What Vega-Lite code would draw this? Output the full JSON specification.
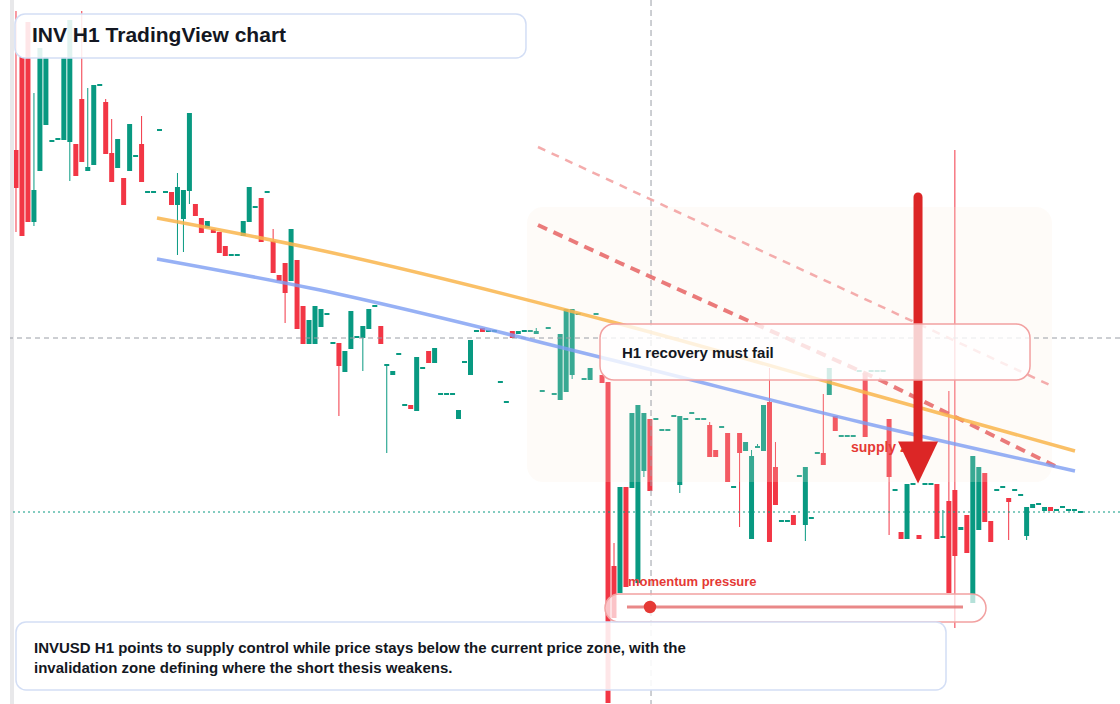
{
"$schema": "https://vega.github.io/schema/vega-lite/v6.json",
"width": 1120, "height": 704,
"autosize": {"type": "fit", "contains": "padding"},
"padding": {"left": 10, "top": 0, "right": 0, "bottom": 0},
"background": "#ffffff",
"config": {"view": {"stroke": null}, "text": {"font": "Liberation Sans"}},
"datasets": {
"candles": [
{"i":0,"o":5.54,"h":6.93,"l":4.72,"c":5.16},
{"i":1,"o":6.47,"h":6.47,"l":4.68,"c":4.68},
{"i":2,"o":6.82,"h":6.82,"l":4.82,"c":4.82},
{"i":3,"o":4.82,"h":6.11,"l":4.78,"c":5.14},
{"i":4,"o":5.33,"h":6.56,"l":5.33,"c":6.56},
{"i":5,"o":5.79,"h":6.47,"l":5.79,"c":6.47},
{"i":6,"o":5.62,"h":5.64,"l":5.62,"c":5.64},
{"i":7,"o":5.64,"h":5.66,"l":5.64,"c":5.66},
{"i":8,"o":5.64,"h":6.47,"l":5.64,"c":6.47},
{"i":9,"o":5.62,"h":6.84,"l":5.23,"c":6.84},
{"i":10,"o":5.60,"h":5.60,"l":5.28,"c":5.28},
{"i":11,"o":6.05,"h":6.93,"l":5.42,"c":5.42},
{"i":12,"o":5.33,"h":6.16,"l":5.33,"c":5.37},
{"i":13,"o":5.39,"h":6.19,"l":5.39,"c":6.19},
{"i":14,"o":6.18,"h":6.20,"l":6.18,"c":6.20},
{"i":15,"o":6.02,"h":6.05,"l":5.50,"c":5.50},
{"i":16,"o":5.51,"h":5.85,"l":5.22,"c":5.22},
{"i":17,"o":5.36,"h":5.65,"l":5.36,"c":5.65},
{"i":18,"o":5.26,"h":5.26,"l":4.99,"c":4.99},
{"i":19,"o":5.33,"h":5.80,"l":5.33,"c":5.80},
{"i":20,"o":5.47,"h":5.49,"l":5.47,"c":5.49},
{"i":21,"o":5.60,"h":5.88,"l":5.22,"c":5.22},
{"i":22,"o":5.11,"h":5.13,"l":5.11,"c":5.13},
{"i":23,"o":5.11,"h":5.13,"l":5.11,"c":5.13},
{"i":24,"o":5.73,"h":5.75,"l":5.73,"c":5.75},
{"i":25,"o":5.11,"h":5.13,"l":5.11,"c":5.13},
{"i":26,"o":5.12,"h":5.12,"l":4.99,"c":4.99},
{"i":27,"o":4.99,"h":5.31,"l":4.49,"c":5.17},
{"i":28,"o":4.85,"h":5.14,"l":4.52,"c":5.14},
{"i":29,"o":5.13,"h":5.91,"l":5.00,"c":5.91},
{"i":30,"o":5.00,"h":5.00,"l":4.88,"c":4.88},
{"i":31,"o":4.86,"h":4.86,"l":4.71,"c":4.71},
{"i":32,"o":4.76,"h":4.83,"l":4.76,"c":4.83},
{"i":33,"o":4.75,"h":4.75,"l":4.71,"c":4.71},
{"i":34,"o":4.72,"h":4.72,"l":4.51,"c":4.51},
{"i":35,"o":4.58,"h":4.58,"l":4.48,"c":4.48},
{"i":36,"o":4.48,"h":4.50,"l":4.48,"c":4.50},
{"i":37,"o":4.48,"h":4.50,"l":4.48,"c":4.50},
{"i":38,"o":4.68,"h":4.83,"l":4.68,"c":4.83},
{"i":39,"o":4.82,"h":5.17,"l":4.82,"c":5.17},
{"i":40,"o":4.96,"h":4.98,"l":4.96,"c":4.98},
{"i":41,"o":5.06,"h":5.06,"l":4.62,"c":4.62},
{"i":42,"o":5.11,"h":5.13,"l":5.11,"c":5.13},
{"i":43,"o":4.63,"h":4.75,"l":4.31,"c":4.31},
{"i":44,"o":4.29,"h":4.29,"l":4.23,"c":4.23},
{"i":45,"o":4.41,"h":4.41,"l":3.81,"c":4.11},
{"i":46,"o":4.23,"h":4.75,"l":4.23,"c":4.75},
{"i":47,"o":4.44,"h":4.44,"l":3.75,"c":3.75},
{"i":48,"o":3.98,"h":3.98,"l":3.60,"c":3.60},
{"i":49,"o":3.60,"h":3.84,"l":3.60,"c":3.84},
{"i":50,"o":3.60,"h":3.98,"l":3.60,"c":3.98},
{"i":51,"o":3.77,"h":3.95,"l":3.77,"c":3.95},
{"i":52,"o":3.89,"h":3.91,"l":3.89,"c":3.91},
{"i":53,"o":3.60,"h":3.62,"l":3.60,"c":3.62},
{"i":54,"o":3.61,"h":3.61,"l":2.88,"c":3.38},
{"i":55,"o":3.32,"h":3.53,"l":3.32,"c":3.53},
{"i":56,"o":3.55,"h":3.93,"l":3.55,"c":3.93},
{"i":57,"o":3.66,"h":3.68,"l":3.66,"c":3.68},
{"i":58,"o":3.66,"h":3.78,"l":3.33,"c":3.78},
{"i":59,"o":3.75,"h":3.95,"l":3.75,"c":3.95},
{"i":60,"o":3.97,"h":3.99,"l":3.97,"c":3.99},
{"i":61,"o":3.78,"h":3.78,"l":3.60,"c":3.60},
{"i":62,"o":3.38,"h":3.40,"l":2.51,"c":3.40},
{"i":63,"o":3.29,"h":3.33,"l":3.29,"c":3.33},
{"i":64,"o":3.49,"h":3.51,"l":3.49,"c":3.51},
{"i":65,"o":2.98,"h":3.00,"l":2.98,"c":3.00},
{"i":66,"o":2.99,"h":2.99,"l":2.95,"c":2.95},
{"i":67,"o":2.93,"h":3.47,"l":2.93,"c":3.47},
{"i":68,"o":3.35,"h":3.37,"l":3.35,"c":3.37},
{"i":69,"o":3.53,"h":3.53,"l":3.41,"c":3.41},
{"i":70,"o":3.41,"h":3.56,"l":3.41,"c":3.56},
{"i":71,"o":3.09,"h":3.11,"l":3.09,"c":3.11},
{"i":72,"o":3.09,"h":3.11,"l":3.09,"c":3.11},
{"i":73,"o":3.09,"h":3.11,"l":3.09,"c":3.11},
{"i":74,"o":2.85,"h":2.94,"l":2.85,"c":2.94},
{"i":75,"o":3.41,"h":3.43,"l":3.41,"c":3.43},
{"i":76,"o":3.29,"h":3.64,"l":3.29,"c":3.64},
{"i":77,"o":3.72,"h":3.74,"l":3.72,"c":3.74},
{"i":78,"o":3.76,"h":3.76,"l":3.72,"c":3.72},
{"i":79,"o":3.72,"h":3.74,"l":3.72,"c":3.74},
{"i":80,"o":3.72,"h":3.74,"l":3.72,"c":3.74},
{"i":81,"o":3.21,"h":3.23,"l":3.21,"c":3.23},
{"i":82,"o":3.01,"h":3.03,"l":3.01,"c":3.03},
{"i":83,"o":3.73,"h":3.73,"l":3.66,"c":3.66},
{"i":84,"o":3.70,"h":3.73,"l":3.70,"c":3.73},
{"i":85,"o":3.72,"h":3.74,"l":3.72,"c":3.74},
{"i":86,"o":3.72,"h":3.74,"l":3.72,"c":3.74},
{"i":87,"o":3.70,"h":3.76,"l":3.70,"c":3.73},
{"i":88,"o":3.12,"h":3.14,"l":3.12,"c":3.14},
{"i":89,"o":3.75,"h":3.77,"l":3.75,"c":3.77},
{"i":90,"o":3.09,"h":3.11,"l":3.09,"c":3.11},
{"i":91,"o":3.04,"h":3.70,"l":3.04,"c":3.70},
{"i":92,"o":3.12,"h":3.95,"l":3.12,"c":3.95},
{"i":93,"o":3.29,"h":3.95,"l":3.25,"c":3.95},
{"i":94,"o":3.89,"h":3.91,"l":3.89,"c":3.91},
{"i":95,"o":3.24,"h":3.26,"l":3.24,"c":3.26},
{"i":96,"o":3.24,"h":3.36,"l":3.24,"c":3.36},
{"i":97,"o":3.89,"h":3.91,"l":3.89,"c":3.91},
{"i":98,"o":3.29,"h":3.29,"l":3.21,"c":3.21},
{"i":99,"o":3.22,"h":3.22,"l":0.01,"c":0.01},
{"i":100,"o":1.38,"h":1.61,"l":0.86,"c":0.86},
{"i":101,"o":1.11,"h":2.17,"l":1.11,"c":2.17},
{"i":102,"o":2.17,"h":2.17,"l":1.17,"c":1.17},
{"i":103,"o":2.16,"h":2.91,"l":2.16,"c":2.91},
{"i":104,"o":1.21,"h":2.99,"l":1.21,"c":2.99},
{"i":105,"o":2.33,"h":2.91,"l":2.27,"c":2.91},
{"i":106,"o":2.85,"h":2.85,"l":2.13,"c":2.13},
{"i":107,"o":2.84,"h":2.86,"l":2.84,"c":2.86},
{"i":108,"o":2.73,"h":2.75,"l":2.73,"c":2.75},
{"i":109,"o":2.73,"h":2.75,"l":2.73,"c":2.75},
{"i":110,"o":2.87,"h":2.89,"l":2.87,"c":2.89},
{"i":111,"o":2.19,"h":2.88,"l":2.11,"c":2.88},
{"i":112,"o":2.84,"h":2.86,"l":2.84,"c":2.86},
{"i":113,"o":2.90,"h":2.92,"l":2.90,"c":2.92},
{"i":114,"o":2.84,"h":2.86,"l":2.84,"c":2.86},
{"i":115,"o":2.84,"h":2.86,"l":2.84,"c":2.86},
{"i":116,"o":2.79,"h":2.82,"l":2.47,"c":2.47},
{"i":117,"o":2.54,"h":2.54,"l":2.47,"c":2.47},
{"i":118,"o":2.76,"h":2.78,"l":2.76,"c":2.78},
{"i":119,"o":2.71,"h":2.71,"l":2.22,"c":2.22},
{"i":120,"o":2.16,"h":2.18,"l":2.16,"c":2.18},
{"i":121,"o":2.71,"h":2.71,"l":1.77,"c":2.51},
{"i":122,"o":2.53,"h":2.62,"l":2.53,"c":2.62},
{"i":123,"o":1.65,"h":2.54,"l":1.65,"c":2.48},
{"i":124,"o":2.56,"h":2.60,"l":2.56,"c":2.58},
{"i":125,"o":2.53,"h":2.99,"l":2.53,"c":2.99},
{"i":126,"o":3.02,"h":3.36,"l":1.62,"c":1.62},
{"i":127,"o":2.37,"h":2.62,"l":1.99,"c":1.99},
{"i":128,"o":1.82,"h":1.84,"l":1.82,"c":1.84},
{"i":129,"o":1.82,"h":1.84,"l":1.82,"c":1.84},
{"i":130,"o":1.89,"h":1.89,"l":1.79,"c":1.79},
{"i":131,"o":2.27,"h":2.29,"l":2.27,"c":2.29},
{"i":132,"o":1.79,"h":2.37,"l":1.63,"c":2.37},
{"i":133,"o":1.85,"h":1.87,"l":1.85,"c":1.87},
{"i":134,"o":2.50,"h":2.52,"l":2.50,"c":2.52},
{"i":135,"o":2.51,"h":3.10,"l":2.39,"c":2.39},
{"i":136,"o":3.09,"h":3.36,"l":3.09,"c":3.36},
{"i":137,"o":2.88,"h":2.88,"l":2.73,"c":2.73},
{"i":138,"o":2.67,"h":2.69,"l":2.67,"c":2.69},
{"i":139,"o":2.67,"h":2.69,"l":2.67,"c":2.69},
{"i":140,"o":2.67,"h":2.69,"l":2.67,"c":2.69},
{"i":141,"o":3.32,"h":3.34,"l":3.32,"c":3.34},
{"i":142,"o":3.31,"h":3.31,"l":2.67,"c":2.67},
{"i":143,"o":3.32,"h":3.34,"l":3.32,"c":3.34},
{"i":144,"o":3.32,"h":3.34,"l":3.32,"c":3.34},
{"i":145,"o":3.32,"h":3.34,"l":3.32,"c":3.34},
{"i":146,"o":2.85,"h":2.85,"l":1.69,"c":2.27},
{"i":147,"o":2.13,"h":2.15,"l":2.13,"c":2.15},
{"i":148,"o":1.72,"h":1.72,"l":1.65,"c":1.65},
{"i":149,"o":1.65,"h":2.20,"l":1.65,"c":2.20},
{"i":150,"o":2.19,"h":2.21,"l":2.19,"c":2.21},
{"i":151,"o":1.69,"h":1.69,"l":1.65,"c":1.65},
{"i":152,"o":2.19,"h":2.21,"l":2.19,"c":2.21},
{"i":153,"o":2.19,"h":2.21,"l":2.19,"c":2.21},
{"i":154,"o":2.20,"h":2.20,"l":1.65,"c":1.65},
{"i":155,"o":1.66,"h":1.94,"l":1.66,"c":1.68},
{"i":156,"o":2.03,"h":3.13,"l":1.11,"c":1.11},
{"i":157,"o":2.14,"h":5.54,"l":0.76,"c":1.48},
{"i":158,"o":1.74,"h":1.77,"l":1.74,"c":1.77},
{"i":159,"o":1.89,"h":1.89,"l":1.51,"c":1.51},
{"i":160,"o":1.01,"h":2.48,"l":1.01,"c":2.48},
{"i":161,"o":1.74,"h":2.37,"l":1.74,"c":2.37},
{"i":162,"o":2.31,"h":2.31,"l":1.82,"c":1.82},
{"i":163,"o":1.83,"h":1.83,"l":1.62,"c":1.62},
{"i":164,"o":2.13,"h":2.15,"l":2.13,"c":2.15},
{"i":165,"o":2.16,"h":2.18,"l":2.16,"c":2.18},
{"i":166,"o":2.06,"h":2.06,"l":1.64,"c":2.02},
{"i":167,"o":2.13,"h":2.15,"l":2.13,"c":2.15},
{"i":168,"o":2.08,"h":2.10,"l":2.08,"c":2.10},
{"i":169,"o":1.68,"h":1.97,"l":1.64,"c":1.97},
{"i":170,"o":1.96,"h":2.00,"l":1.96,"c":2.00},
{"i":171,"o":1.99,"h":2.01,"l":1.99,"c":2.01},
{"i":172,"o":1.93,"h":1.97,"l":1.93,"c":1.97},
{"i":173,"o":1.97,"h":1.97,"l":1.93,"c":1.93},
{"i":174,"o":1.93,"h":1.95,"l":1.93,"c":1.95},
{"i":175,"o":1.96,"h":1.98,"l":1.96,"c":1.98},
{"i":176,"o":1.93,"h":1.95,"l":1.93,"c":1.95},
{"i":177,"o":1.93,"h":1.95,"l":1.93,"c":1.95},
{"i":178,"o":1.91,"h":1.93,"l":1.91,"c":1.93}
],
"trends": [
{"line":"orange","i":23.58,"p":4.86},{"line":"orange","i":49.16,"p":4.56},{"line":"orange","i":101.0,"p":3.80},{"line":"orange","i":141.14,"p":3.13},{"line":"orange","i":177.09,"p":2.53},
{"line":"blue","i":23.58,"p":4.45},{"line":"blue","i":49.16,"p":4.16},{"line":"blue","i":101.0,"p":3.42},{"line":"blue","i":141.14,"p":2.82},{"line":"blue","i":177.09,"p":2.33},
{"line":"red","i":87.29,"p":4.79},{"line":"red","i":101.0,"p":4.41},{"line":"red","i":144.48,"p":3.24},{"line":"red","i":173.75,"p":2.38},
{"line":"pink","i":87.29,"p":5.57},{"line":"pink","i":173.24,"p":3.18}
]
},
"layer": [
{"data":{"name":"candles"},"mark":{"type":"rule","strokeWidth":1,"clip":true},
 "encoding":{
  "x":{"field":"i","type":"quantitative","scale":{"domain":[-1.0033,184.615],"nice":false,"zero":false,"padding":0},
       "axis":{"values":[1.0,19.06,31.1,50.17,61.2,72.24,85.28,98.16,114.21,131.44,144.48,163.38,180.6],"grid":true,"labels":false,"ticks":false,"domain":false,"title":null,"gridColor":"#d3d6dc","gridDash":[2,5],"gridWidth":1.2}},
  "y":{"field":"l","type":"quantitative","scale":{"domain":[0,7.04],"nice":false,"zero":false},
       "axis":{"values":[0.56,1.126,1.692,2.258,2.824,3.39,3.956,4.522,5.088,5.654,6.22,6.786],"grid":true,"labels":false,"ticks":false,"domain":false,"title":null,"gridColor":"#d3d6dc","gridDash":[2,5],"gridWidth":1.2}},
  "y2":{"field":"h"},
  "color":{"condition":{"test":"datum.c >= datum.o","value":"#089981"},"value":"#f23645"}}},
{"data":{"name":"candles"},"mark":{"type":"bar","size":5,"clip":true},
 "encoding":{
  "x":{"field":"i","type":"quantitative","scale":{"domain":[-1.0033,184.615],"nice":false,"zero":false,"padding":0},"axis":null},
  "y":{"field":"o","type":"quantitative","scale":{"domain":[0,7.04],"nice":false,"zero":false},"axis":null},
  "y2":{"field":"c"},
  "color":{"condition":{"test":"datum.c >= datum.o","value":"#089981"},"value":"#f23645"}}},
{"data":{"values":[{"i":85.45,"i2":173.24,"p":4.97,"p2":2.22}]},
 "mark":{"type":"rect","fill":"#fbe9dc","opacity":0.2,"cornerRadius":16},
 "encoding":{
  "x":{"field":"i","type":"quantitative","scale":{"domain":[-1.0033,184.615],"nice":false,"zero":false,"padding":0},"axis":null},"x2":{"field":"i2"},
  "y":{"field":"p","type":"quantitative","scale":{"domain":[0,7.04],"nice":false,"zero":false},"axis":null},"y2":{"field":"p2"}}},
{"data":{"values":[{"i":-0.669}]},"mark":{"type":"rule","color":"#e8e8ea","strokeWidth":4,"clip":true},
 "encoding":{"x":{"field":"i","type":"quantitative","scale":{"domain":[-1.0033,184.615],"nice":false,"zero":false,"padding":0},"axis":null}}},
{"data":{"values":[{"p":3.66}]},"mark":{"type":"rule","color":"#9a9ea6","strokeWidth":1,"strokeDash":[5,4],"clip":true},
 "encoding":{"y":{"field":"p","type":"quantitative","scale":{"domain":[0,7.04],"nice":false,"zero":false},"axis":null}}},
{"data":{"values":[{"p":1.92}]},"mark":{"type":"rule","color":"#089981","strokeWidth":1.2,"strokeDash":[2,3],"clip":true},
 "encoding":{"y":{"field":"p","type":"quantitative","scale":{"domain":[0,7.04],"nice":false,"zero":false},"axis":null}}},
{"data":{"values":[{"i":106.19}]},"mark":{"type":"rule","color":"#9a9ea6","strokeWidth":1,"strokeDash":[6,4],"clip":true},
 "encoding":{"x":{"field":"i","type":"quantitative","scale":{"domain":[-1.0033,184.615],"nice":false,"zero":false,"padding":0},"axis":null}}},
{"data":{"name":"trends"},"transform":[{"filter":"datum.line === 'pink'"}],
 "mark":{"type":"line","color":"#f3a3a3","strokeWidth":2.5,"strokeDash":[8,7],"opacity":0.9},
 "encoding":{"x":{"field":"i","type":"quantitative","scale":{"domain":[-1.0033,184.615],"nice":false,"zero":false,"padding":0},"axis":null},
  "y":{"field":"p","type":"quantitative","scale":{"domain":[0,7.04],"nice":false,"zero":false},"axis":null},"order":{"field":"i"}}},
{"data":{"name":"trends"},"transform":[{"filter":"datum.line === 'red'"}],
 "mark":{"type":"line","color":"#e86b6b","strokeWidth":4,"strokeDash":[10,7],"opacity":0.9},
 "encoding":{"x":{"field":"i","type":"quantitative","scale":{"domain":[-1.0033,184.615],"nice":false,"zero":false,"padding":0},"axis":null},
  "y":{"field":"p","type":"quantitative","scale":{"domain":[0,7.04],"nice":false,"zero":false},"axis":null},"order":{"field":"i"}}},
{"data":{"name":"trends"},"transform":[{"filter":"datum.line === 'orange'"}],
 "mark":{"type":"line","color":"#f9b54c","strokeWidth":3.5,"opacity":0.85,"interpolate":"monotone"},
 "encoding":{"x":{"field":"i","type":"quantitative","scale":{"domain":[-1.0033,184.615],"nice":false,"zero":false,"padding":0},"axis":null},
  "y":{"field":"p","type":"quantitative","scale":{"domain":[0,7.04],"nice":false,"zero":false},"axis":null},"order":{"field":"i"}}},
{"data":{"name":"trends"},"transform":[{"filter":"datum.line === 'blue'"}],
 "mark":{"type":"line","color":"#7d9ef2","strokeWidth":3.5,"opacity":0.8,"interpolate":"monotone"},
 "encoding":{"x":{"field":"i","type":"quantitative","scale":{"domain":[-1.0033,184.615],"nice":false,"zero":false,"padding":0},"axis":null},
  "y":{"field":"p","type":"quantitative","scale":{"domain":[0,7.04],"nice":false,"zero":false},"axis":null},"order":{"field":"i"}}},
{"data":{"values":[{"i":139.63,"p":2.56,"t":"supply zone"}]},
 "mark":{"type":"text","align":"left","baseline":"middle","fontSize":14,"fontWeight":"bold","color":"#e53935"},
 "encoding":{"x":{"field":"i","type":"quantitative","scale":{"domain":[-1.0033,184.615],"nice":false,"zero":false,"padding":0},"axis":null},
  "y":{"field":"p","type":"quantitative","scale":{"domain":[0,7.04],"nice":false,"zero":false},"axis":null},"text":{"field":"t"}}},
{"data":{"values":[{"i":150.84,"p":5.07,"p2":2.54}]},
 "mark":{"type":"rule","color":"#dc2626","strokeWidth":9,"strokeCap":"round"},
 "encoding":{"x":{"field":"i","type":"quantitative","scale":{"domain":[-1.0033,184.615],"nice":false,"zero":false,"padding":0},"axis":null},
  "y":{"field":"p","type":"quantitative","scale":{"domain":[0,7.04],"nice":false,"zero":false},"axis":null},"y2":{"field":"p2"}}},
{"data":{"values":[{"i":150.84,"p":2.415}]},
 "mark":{"type":"point","filled":true,"color":"#dc2626","opacity":1,"size":1600,"shape":"M -1 -1.05 L 1 -1.05 L 0 1.05 Z"},
 "encoding":{"x":{"field":"i","type":"quantitative","scale":{"domain":[-1.0033,184.615],"nice":false,"zero":false,"padding":0},"axis":null},
  "y":{"field":"p","type":"quantitative","scale":{"domain":[0,7.04],"nice":false,"zero":false},"axis":null}}},
{"data":{"values":[{"i":97.66,"i2":169.57,"p":3.80,"p2":3.24}]},
 "mark":{"type":"rect","fill":"#ffffff","fillOpacity":0.78,"stroke":"#f2a1a1","strokeWidth":1.5,"cornerRadius":14},
 "encoding":{"x":{"field":"i","type":"quantitative","scale":{"domain":[-1.0033,184.615],"nice":false,"zero":false,"padding":0},"axis":null},"x2":{"field":"i2"},
  "y":{"field":"p","type":"quantitative","scale":{"domain":[0,7.04],"nice":false,"zero":false},"axis":null},"y2":{"field":"p2"}}},
{"data":{"values":[{"i":101.34,"p":3.51,"t":"H1 recovery must fail"}]},
 "mark":{"type":"text","align":"left","baseline":"middle","fontSize":15,"fontWeight":"bold","color":"#131722"},
 "encoding":{"x":{"field":"i","type":"quantitative","scale":{"domain":[-1.0033,184.615],"nice":false,"zero":false,"padding":0},"axis":null},
  "y":{"field":"p","type":"quantitative","scale":{"domain":[0,7.04],"nice":false,"zero":false},"axis":null},"text":{"field":"t"}}},
{"data":{"values":[{"i":98.49,"i2":162.21,"p":1.10,"p2":0.82}]},
 "mark":{"type":"rect","fill":"#ffffff","fillOpacity":0.7,"stroke":"#f2a1a1","strokeWidth":1.5,"cornerRadius":14},
 "encoding":{"x":{"field":"i","type":"quantitative","scale":{"domain":[-1.0033,184.615],"nice":false,"zero":false,"padding":0},"axis":null},"x2":{"field":"i2"},
  "y":{"field":"p","type":"quantitative","scale":{"domain":[0,7.04],"nice":false,"zero":false},"axis":null},"y2":{"field":"p2"}}},
{"data":{"values":[{"i":102.17,"i2":158.36,"p":0.97}]},
 "mark":{"type":"rule","color":"#e57373","strokeWidth":3,"opacity":0.85},
 "encoding":{"x":{"field":"i","type":"quantitative","scale":{"domain":[-1.0033,184.615],"nice":false,"zero":false,"padding":0},"axis":null},"x2":{"field":"i2"},
  "y":{"field":"p","type":"quantitative","scale":{"domain":[0,7.04],"nice":false,"zero":false},"axis":null}}},
{"data":{"values":[{"i":106.02,"p":0.97}]},
 "mark":{"type":"point","shape":"circle","filled":true,"color":"#e53935","opacity":1,"size":154},
 "encoding":{"x":{"field":"i","type":"quantitative","scale":{"domain":[-1.0033,184.615],"nice":false,"zero":false,"padding":0},"axis":null},
  "y":{"field":"p","type":"quantitative","scale":{"domain":[0,7.04],"nice":false,"zero":false},"axis":null}}},
{"data":{"values":[{"i":102.34,"p":1.22,"t":"momentum pressure"}]},
 "mark":{"type":"text","align":"left","baseline":"middle","fontSize":13,"fontWeight":"bold","color":"#e53935"},
 "encoding":{"x":{"field":"i","type":"quantitative","scale":{"domain":[-1.0033,184.615],"nice":false,"zero":false,"padding":0},"axis":null},
  "y":{"field":"p","type":"quantitative","scale":{"domain":[0,7.04],"nice":false,"zero":false},"axis":null},"text":{"field":"t"}}},
{"data":{"values":[{"i":0.0,"i2":155.52,"p":0.82,"p2":0.14}]},
 "mark":{"type":"rect","fill":"#ffffff","fillOpacity":0.88,"stroke":"#d3def5","strokeWidth":1.5,"cornerRadius":10},
 "encoding":{"x":{"field":"i","type":"quantitative","scale":{"domain":[-1.0033,184.615],"nice":false,"zero":false,"padding":0},"axis":null},"x2":{"field":"i2"},
  "y":{"field":"p","type":"quantitative","scale":{"domain":[0,7.04],"nice":false,"zero":false},"axis":null},"y2":{"field":"p2"}}},
{"data":{"values":[
  {"i":3.01,"p":0.56,"t":"INVUSD H1 points to supply control while price stays below the current price zone, with the"},
  {"i":3.01,"p":0.36,"t":"invalidation zone defining where the short thesis weakens."}]},
 "mark":{"type":"text","align":"left","baseline":"middle","fontSize":15,"fontWeight":"bold","color":"#131722"},
 "encoding":{"x":{"field":"i","type":"quantitative","scale":{"domain":[-1.0033,184.615],"nice":false,"zero":false,"padding":0},"axis":null},
  "y":{"field":"p","type":"quantitative","scale":{"domain":[0,7.04],"nice":false,"zero":false},"axis":null},"text":{"field":"t"}}},
{"data":{"values":[{"i":-0.17,"i2":85.28,"p":6.90,"p2":6.46}]},
 "mark":{"type":"rect","fill":"#ffffff","fillOpacity":0.88,"stroke":"#d3def5","strokeWidth":1.5,"cornerRadius":10},
 "encoding":{"x":{"field":"i","type":"quantitative","scale":{"domain":[-1.0033,184.615],"nice":false,"zero":false,"padding":0},"axis":null},"x2":{"field":"i2"},
  "y":{"field":"p","type":"quantitative","scale":{"domain":[0,7.04],"nice":false,"zero":false},"axis":null},"y2":{"field":"p2"}}},
{"data":{"values":[{"i":2.68,"p":6.68,"t":"INV H1 TradingView chart"}]},
 "mark":{"type":"text","align":"left","baseline":"middle","fontSize":21,"fontWeight":"bold","color":"#131722"},
 "encoding":{"x":{"field":"i","type":"quantitative","scale":{"domain":[-1.0033,184.615],"nice":false,"zero":false,"padding":0},"axis":null},
  "y":{"field":"p","type":"quantitative","scale":{"domain":[0,7.04],"nice":false,"zero":false},"axis":null},"text":{"field":"t"}}}
]
}
